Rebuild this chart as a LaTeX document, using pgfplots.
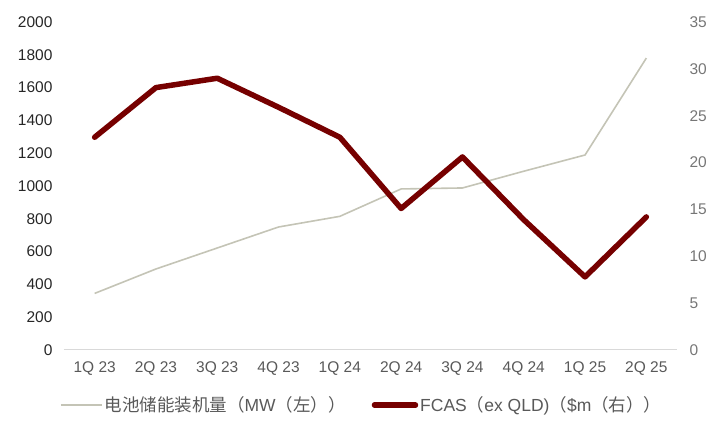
\documentclass[border=0pt]{standalone}
\usepackage{pgfplots}
\pgfplotsset{compat=1.18}
\usepackage{fontspec}
\setmainfont{Liberation Sans}
\newfontfamily\cjk{Noto Sans CJK SC}
\definecolor{redline}{RGB}{118,0,0}
\definecolor{grayline}{RGB}{196,196,182}
\definecolor{ticktext}{RGB}{89,89,89}
\definecolor{lefttick}{RGB}{38,38,38}
\definecolor{righttick}{RGB}{118,118,118}
\definecolor{axisgray}{RGB}{217,217,217}
\begin{document}
\begin{tikzpicture}
\path[use as bounding box] (-64pt,-83pt) rectangle (657pt,350pt);
\begin{axis}[
  scale only axis, width=613pt, height=328pt,
  xmin=-0.5, xmax=9.5, ymin=0, ymax=2000,
  xtick={0,...,9},
  xticklabels={1Q 23,2Q 23,3Q 23,4Q 23,1Q 24,2Q 24,3Q 24,4Q 24,1Q 25,2Q 25},
  ytick={0,200,...,2000},
  axis x line*=bottom, axis y line*=left,
  y axis line style={draw=none},
  x axis line style={draw=axisgray, line width=1pt, -},
  major tick length=0pt,
  /pgf/number format/assume math mode=true,
  /pgf/number format/1000 sep={},
  tick label style={font=\fontsize{15.5}{18}\selectfont},
  xticklabel style={text=ticktext, yshift=-8pt},
  yticklabel style={text=lefttick, xshift=-8pt},
]
\addplot[grayline, line width=1.6pt] coordinates {
(0,345) (1,494) (2,622) (3,750) (4,815) (5,982) (6,988) (7,1090) (8,1189) (9,1780)};
\end{axis}
\begin{axis}[
  scale only axis, width=613pt, height=328pt,
  xmin=-0.5, xmax=9.5, ymin=0, ymax=35,
  ytick={0,5,...,35},
  axis x line=none, axis y line*=right,
  y axis line style={draw=none},
  major tick length=0pt,
  /pgf/number format/assume math mode=true,
  tick label style={font=\fontsize{15.5}{18}\selectfont},
  yticklabel style={text=righttick, xshift=9pt},
  legend style={at={(0.4855,-0.168)}, anchor=center, draw=none, fill=none,
    legend columns=2, font=\fontsize{17.5}{20}\selectfont, text=ticktext,
    /tikz/every even column/.append style={column sep=24pt}},
  legend image code/.code={\draw[#1] (0pt,0pt) -- (41pt,0pt);},
]
\addlegendimage{grayline, line width=1.8pt}
\addlegendentry{{\cjk 电池储能装机量（}MW{\cjk （左））}}
\addplot[redline, line width=5.5pt, line join=round, line cap=round] coordinates {
(0,22.7) (1,28.0) (2,29.0) (3,25.9) (4,22.7) (5,15.1) (6,20.6) (7,13.9) (8,7.8) (9,14.2)};
\addlegendentry{FCAS{\cjk （}ex QLD){\cjk （}\$m{\cjk （右））}}
\end{axis}
\end{tikzpicture}
\end{document}
